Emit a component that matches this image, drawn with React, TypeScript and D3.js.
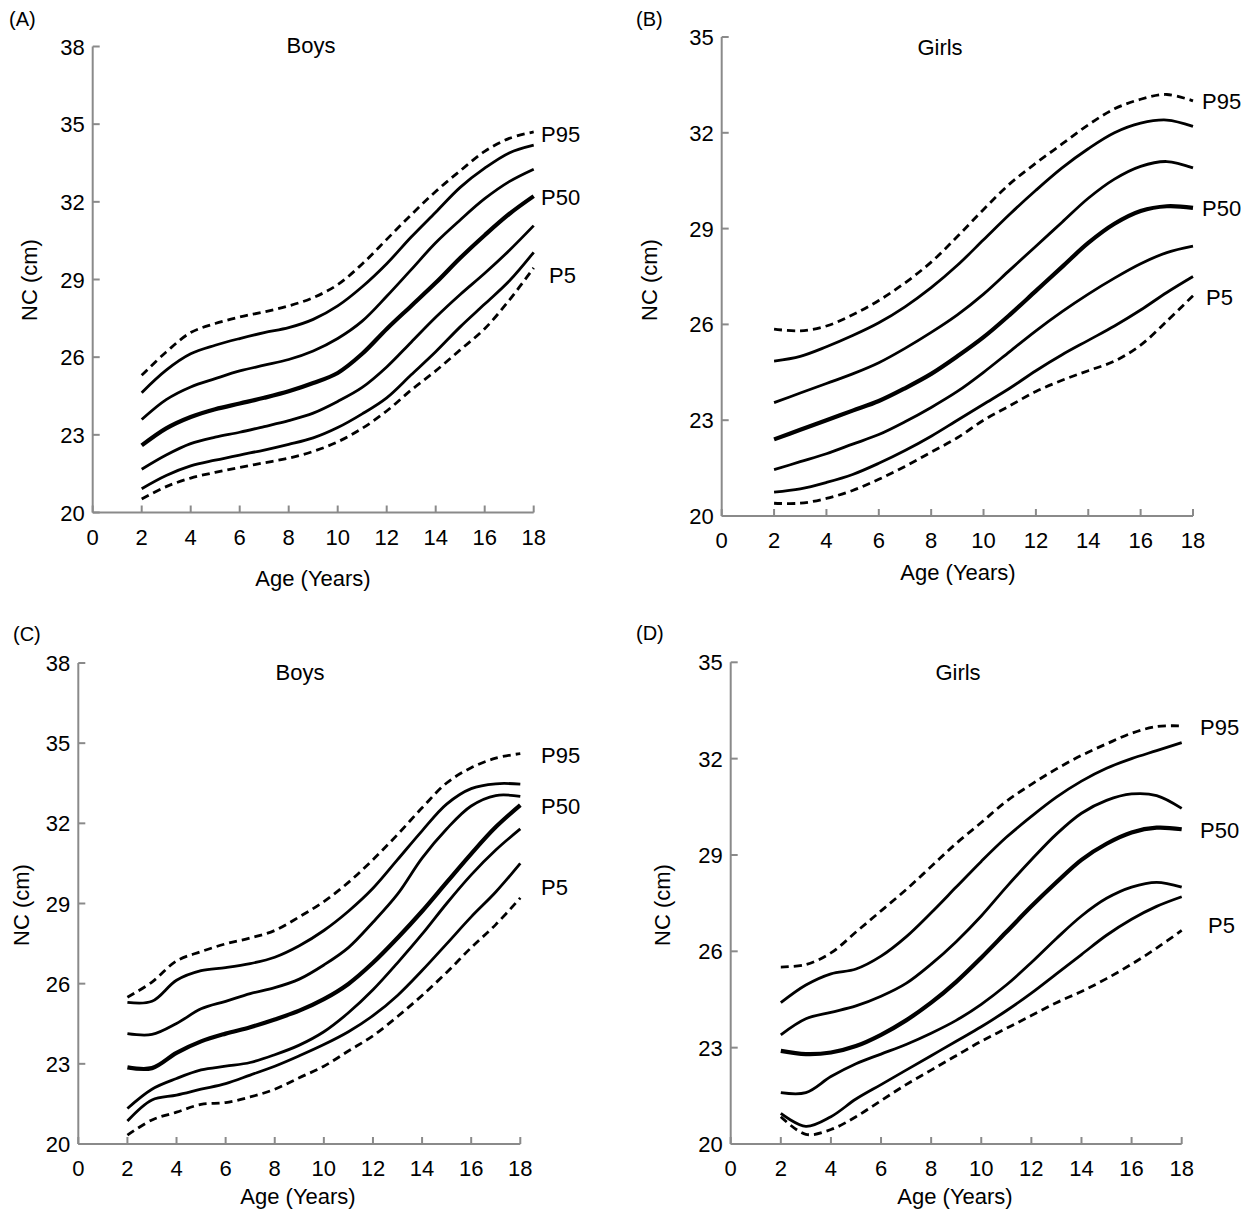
import * as d3 from "d3";

// Ages (years) at which each percentile curve was read
const ages = [2, 3, 4, 5, 6, 7, 8, 9, 10, 11, 12, 13, 14, 15, 16, 17, 18];
const xTicks = [0, 2, 4, 6, 8, 10, 12, 14, 16, 18];
const percentiles = ["P5", "P10", "P25", "P50", "P75", "P90", "P95"];

// (A) Boys
const boysA = {
  P95: [25.3, 26.2, 26.95, 27.3, 27.55, 27.75, 27.98, 28.3, 28.8, 29.6, 30.55, 31.5, 32.4, 33.2, 33.95, 34.45, 34.7],
  P90: [24.63, 25.5, 26.13, 26.46, 26.72, 26.95, 27.14, 27.46, 27.98, 28.72, 29.61, 30.64, 31.6, 32.56, 33.3, 33.89, 34.19],
  P75: [23.59, 24.36, 24.85, 25.17, 25.47, 25.69, 25.91, 26.24, 26.72, 27.39, 28.35, 29.38, 30.42, 31.3, 32.12, 32.78, 33.26],
  P50: [22.59, 23.25, 23.69, 23.99, 24.21, 24.43, 24.68, 25.0, 25.39, 26.13, 27.09, 27.98, 28.87, 29.83, 30.71, 31.53, 32.22],
  P25: [21.67, 22.22, 22.66, 22.91, 23.1, 23.32, 23.55, 23.84, 24.29, 24.83, 25.62, 26.58, 27.54, 28.42, 29.24, 30.12, 31.08],
  P10: [20.92, 21.43, 21.8, 22.02, 22.22, 22.41, 22.63, 22.88, 23.28, 23.81, 24.43, 25.32, 26.21, 27.17, 28.05, 28.94, 30.05],
  P5: [20.52, 21.0, 21.33, 21.55, 21.74, 21.92, 22.1, 22.36, 22.73, 23.25, 23.92, 24.73, 25.47, 26.28, 27.1, 28.2, 29.45],
};

// (B) Girls
const girlsB = {
  P95: [25.85, 25.8, 25.95, 26.3, 26.75, 27.3, 27.95, 28.75, 29.6, 30.4, 31.05, 31.65, 32.25, 32.75, 33.05, 33.2, 33.0],
  P90: [24.85, 25.0, 25.3, 25.65, 26.05, 26.55, 27.15, 27.85, 28.65, 29.45, 30.2, 30.9, 31.5, 32.0, 32.3, 32.4, 32.2],
  P75: [23.55, 23.85, 24.15, 24.45, 24.8, 25.25, 25.75, 26.3, 26.95, 27.7, 28.45, 29.2, 29.95, 30.55, 30.95, 31.1, 30.9],
  P50: [22.4, 22.7, 23.0, 23.3, 23.6, 24.0, 24.45, 25.0, 25.6, 26.3, 27.05, 27.8, 28.55, 29.15, 29.55, 29.7, 29.65],
  P25: [21.45, 21.7, 21.95, 22.25, 22.55, 22.95, 23.4, 23.9, 24.5, 25.15, 25.8, 26.4, 26.95, 27.45, 27.9, 28.25, 28.45],
  P10: [20.75, 20.85, 21.05, 21.3, 21.65, 22.05, 22.5, 23.0, 23.5, 24.0, 24.55, 25.05, 25.5, 25.95, 26.45, 27.0, 27.5],
  P5: [20.4, 20.4, 20.55, 20.8, 21.15, 21.55, 22.0, 22.45, 23.0, 23.45, 23.9, 24.25, 24.55, 24.85, 25.35, 26.1, 26.9],
};

// (C) Boys
const boysC = {
  P95: [25.49, 26.06, 26.85, 27.2, 27.49, 27.71, 27.99, 28.5, 29.07, 29.79, 30.64, 31.58, 32.58, 33.51, 34.08, 34.44, 34.61],
  P90: [25.3, 25.34, 26.13, 26.49, 26.6, 26.75, 26.99, 27.42, 27.99, 28.71, 29.57, 30.64, 31.72, 32.72, 33.3, 33.48, 33.47],
  P75: [24.13, 24.1, 24.51, 25.06, 25.34, 25.63, 25.85, 26.17, 26.7, 27.35, 28.3, 29.35, 30.7, 31.79, 32.65, 33.04, 33.01],
  P50: [22.87, 22.84, 23.41, 23.84, 24.13, 24.37, 24.66, 24.99, 25.42, 25.99, 26.78, 27.71, 28.71, 29.79, 30.86, 31.86, 32.68],
  P25: [21.33, 22.05, 22.45, 22.77, 22.91, 23.05, 23.34, 23.7, 24.2, 24.91, 25.77, 26.78, 27.85, 29.0, 30.07, 31.0, 31.79],
  P10: [20.86, 21.65, 21.83, 22.05, 22.26, 22.58, 22.91, 23.3, 23.72, 24.2, 24.8, 25.56, 26.49, 27.49, 28.5, 29.43, 30.5],
  P5: [20.33, 20.9, 21.19, 21.48, 21.55, 21.76, 22.05, 22.48, 22.91, 23.48, 24.05, 24.77, 25.56, 26.42, 27.35, 28.21, 29.21],
};

// (D) Girls
const girlsD = {
  P95: [25.51, 25.59, 25.95, 26.6, 27.26, 27.92, 28.64, 29.36, 30.01, 30.67, 31.2, 31.68, 32.1, 32.46, 32.79, 33.0, 33.02],
  P90: [24.4, 24.95, 25.3, 25.45, 25.85, 26.45, 27.2, 28.0, 28.8, 29.55, 30.2, 30.8, 31.3, 31.7, 32.0, 32.25, 32.5],
  P75: [23.4, 23.9, 24.1, 24.3, 24.6, 25.0, 25.6, 26.3, 27.1, 28.0, 28.85, 29.65, 30.3, 30.7, 30.9, 30.85, 30.45],
  P50: [22.9, 22.8, 22.85, 23.05, 23.4, 23.85, 24.4, 25.05, 25.8, 26.6, 27.4, 28.15, 28.85, 29.35, 29.7, 29.85, 29.8],
  P25: [21.6, 21.6, 22.1, 22.5, 22.8, 23.1, 23.45, 23.85, 24.35, 24.95, 25.65, 26.4, 27.1, 27.65, 28.0, 28.15, 28.0],
  P10: [20.95, 20.55, 20.85, 21.4, 21.85, 22.3, 22.75, 23.2, 23.65, 24.15, 24.7, 25.3, 25.9, 26.5, 27.0, 27.4, 27.7],
  P5: [20.85, 20.3, 20.45, 20.85, 21.35, 21.85, 22.3, 22.75, 23.2, 23.6, 24.0, 24.4, 24.75, 25.15, 25.6, 26.1, 26.65],
};

const boysTicks = [20, 23, 26, 29, 32, 35, 38];
const girlsTicks = [20, 23, 26, 29, 32, 35];

type Series = Record<string, number[]>;

// placement of each panel on the page
const panels = [
  {
    tag: "(A)", title: "Boys", data: boysA, ticks: boysTicks,
    x0: 92.7, x1: 533.7, yBottom: 512.5, yTop: 46.5,
    tagPos: [9, 26], titlePos: [311, 53], yTitle: [37, 280], xTitle: [313, 586],
    labels: [[541, 142, "P95"], [541, 205, "P50"], [549, 283, "P5"]],
  },
  {
    tag: "(B)", title: "Girls", data: girlsB, ticks: girlsTicks,
    x0: 721.7, x1: 1193, yBottom: 516, yTop: 37,
    tagPos: [636, 26], titlePos: [940, 55], yTitle: [657, 280], xTitle: [958, 580],
    labels: [[1202, 109, "P95"], [1202, 216, "P50"], [1206, 305, "P5"]],
  },
  {
    tag: "(C)", title: "Boys", data: boysC, ticks: boysTicks,
    x0: 78.3, x1: 520.3, yBottom: 1144, yTop: 663,
    tagPos: [13, 641], titlePos: [300, 680], yTitle: [29, 905], xTitle: [298, 1204],
    labels: [[541, 763, "P95"], [541, 814, "P50"], [541, 895, "P5"]],
  },
  {
    tag: "(D)", title: "Girls", data: girlsD, ticks: girlsTicks,
    x0: 730.7, x1: 1181.7, yBottom: 1144, yTop: 662.3,
    tagPos: [636, 640], titlePos: [958, 680], yTitle: [670, 905], xTitle: [955, 1204],
    labels: [[1200, 735, "P95"], [1200, 838, "P50"], [1208, 933, "P5"]],
  },
];

const FONT = "'Liberation Sans', Arial, sans-serif";
const AXIS = "#8a8a8a";
const FS = 22;

function Panel({ p }: { p: (typeof panels)[0] }) {
  const ticks = p.ticks;
  const x = d3.scaleLinear().domain([0, 18]).range([p.x0, p.x1]);
  const y = d3
    .scaleLinear()
    .domain([ticks[0], ticks[ticks.length - 1]])
    .range([p.yBottom, p.yTop]);
  const line = d3
    .line<number>()
    .x((_, i) => x(ages[i]))
    .y((d) => y(d))
    .curve(d3.curveCatmullRom.alpha(0.5));
  const data = p.data as Series;

  return (
    <g fontFamily={FONT} fill="#000">
      {/* axes */}
      <line x1={p.x0} x2={p.x0} y1={p.yTop} y2={p.yBottom} stroke={AXIS} strokeWidth={2} />
      <line x1={p.x0} x2={p.x1} y1={p.yBottom} y2={p.yBottom} stroke={AXIS} strokeWidth={2} />
      {ticks.map((t) => (
        <g key={"y" + t}>
          <line x1={p.x0} x2={p.x0 + 7} y1={y(t)} y2={y(t)} stroke={AXIS} strokeWidth={2} />
          <text x={p.x0 - 8} y={y(t) + 8} textAnchor="end" fontSize={FS}>
            {t}
          </text>
        </g>
      ))}
      {xTicks.map((t) => (
        <g key={"x" + t}>
          <line x1={x(t)} x2={x(t)} y1={p.yBottom} y2={p.yBottom - 7} stroke={AXIS} strokeWidth={2} />
          <text x={x(t)} y={p.yBottom + 32} textAnchor="middle" fontSize={FS}>
            {t}
          </text>
        </g>
      ))}

      {/* percentile curves */}
      {percentiles.map((k) => (
        <path
          key={k}
          d={line(data[k]) || ""}
          fill="none"
          stroke="#000"
          strokeWidth={k === "P50" ? 4.2 : 2.8}
          strokeDasharray={k === "P5" || k === "P95" ? "8,5" : undefined}
        />
      ))}

      {p.labels.map(([lx, ly, s]) => (
        <text key={s as string} x={lx as number} y={ly as number} fontSize={FS}>
          {s}
        </text>
      ))}

      <text x={p.tagPos[0]} y={p.tagPos[1]} fontSize={20}>
        {p.tag}
      </text>
      <text x={p.titlePos[0]} y={p.titlePos[1]} textAnchor="middle" fontSize={FS}>
        {p.title}
      </text>
      <text x={p.xTitle[0]} y={p.xTitle[1]} textAnchor="middle" fontSize={FS}>
        Age (Years)
      </text>
      <text
        transform={`translate(${p.yTitle[0]},${p.yTitle[1]}) rotate(-90)`}
        textAnchor="middle"
        fontSize={FS}
      >
        NC (cm)
      </text>
    </g>
  );
}

export default function App() {
  return (
    <svg
      width={1242}
      height={1211}
      viewBox="0 0 1242 1211"
      style={{ position: "absolute", left: 0, top: 0, background: "#fff" }}
    >
      <rect width={1242} height={1211} fill="#fff" />
      {panels.map((p) => (
        <Panel key={p.tag} p={p} />
      ))}
    </svg>
  );
}
